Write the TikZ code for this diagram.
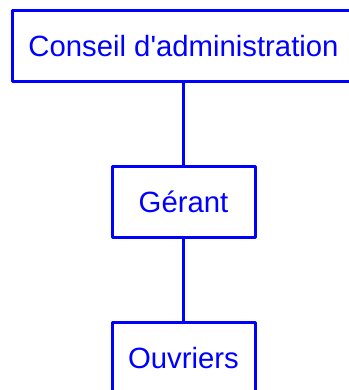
\documentclass[tikz,border=0pt]{standalone}
\usepackage{fontspec}
\setmainfont{Liberation Sans}
\usetikzlibrary{positioning}
\definecolor{orgblue}{RGB}{0,0,255}

\begin{document}
\begin{tikzpicture}[x=1pt,y=1pt,line cap=round,line join=round,
 orgbox/.style={draw=orgblue,line width=3pt,text=orgblue,
  font=\fontsize{29.3}{34}\selectfont,inner sep=0pt,minimum height=71pt}]
% Organigramme : conseil, gérant, ouvriers.
\useasboundingbox (0,0) rectangle (348,-390);
\node[orgbox,minimum width=342pt] (conseil) at (183.5,-46) {Conseil d\textquotesingle administration};
\node[orgbox,minimum width=143pt] (gerant) at (183.5,-202) {Gérant};
\node[orgbox,minimum width=143pt] (ouvriers) at (183.5,-358) {Ouvriers};
\draw[orgblue,line width=3pt] (conseil.south)--(gerant.north);
\draw[orgblue,line width=3pt] (gerant.south)--(ouvriers.north);
\end{tikzpicture}
\end{document}
